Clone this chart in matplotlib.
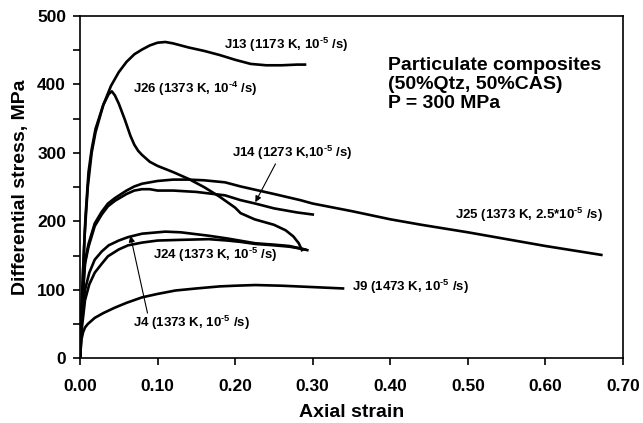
import numpy as np
import matplotlib
matplotlib.use("Agg")
import matplotlib.pyplot as plt
from matplotlib.ticker import MultipleLocator, FormatStrFormatter

plt.rcParams['font.family'] = ['Liberation Sans', 'DejaVu Sans']
plt.rcParams['font.weight'] = 'bold'
plt.rcParams['mathtext.fontset'] = 'custom'
plt.rcParams['mathtext.rm'] = 'Liberation Sans:bold'
plt.rcParams['mathtext.bf'] = 'Liberation Sans:bold'
plt.rcParams['mathtext.default'] = 'bf'

# Stress-strain curves (strain, MPa)
j13_strain = [0, 0.002, 0.004, 0.007, 0.011, 0.015, 0.02, 0.03, 0.04, 0.05, 0.06, 0.07, 0.08, 0.09,
              0.10, 0.11, 0.12, 0.14, 0.16, 0.18, 0.20, 0.22, 0.24, 0.26, 0.28, 0.29]
j13_stress = [0, 60, 130, 205, 272, 305, 335, 370, 398, 418, 433, 444, 451, 457,
              461, 462, 460, 454, 449, 443, 436, 430, 428, 428, 429, 429]

j26_strain = [0, 0.003, 0.006, 0.01, 0.015, 0.02, 0.03, 0.037, 0.041, 0.045, 0.05, 0.058, 0.065, 0.07,
              0.075, 0.08, 0.09, 0.10, 0.12, 0.14, 0.16, 0.18, 0.20, 0.207, 0.225, 0.25, 0.265,
              0.275, 0.282, 0.286]
j26_stress = [0, 100, 180, 250, 300, 330, 370, 386, 390, 384, 372, 348, 325, 312,
              303, 297, 287, 281, 272, 262, 250, 236, 220, 212, 203, 195, 187,
              178, 168, 158]

j25_strain = [0, 0.002, 0.0065, 0.011, 0.019, 0.028, 0.036, 0.045, 0.06, 0.07, 0.08, 0.10, 0.12,
              0.14, 0.16, 0.187, 0.207, 0.25, 0.284, 0.30, 0.35, 0.40, 0.44, 0.50, 0.555, 0.60, 0.672]
j25_stress = [0, 70, 142, 167, 197, 214, 226, 234, 245, 251, 255, 259, 261,
              261, 260, 257, 251, 240, 231, 226, 215, 203, 195, 184, 173, 164, 151]

j14_strain = [0, 0.002, 0.0065, 0.011, 0.019, 0.028, 0.036, 0.045, 0.06, 0.07, 0.08, 0.09, 0.10,
              0.12, 0.15, 0.187, 0.207, 0.226, 0.25, 0.28, 0.30]
j14_stress = [0, 65, 138, 163, 193, 210, 222, 230, 240, 245, 247, 247, 245,
              245, 243, 238, 231, 226, 219, 213, 210]

j4_strain = [0, 0.002, 0.0065, 0.012, 0.019, 0.028, 0.037, 0.05, 0.062, 0.08, 0.10, 0.11, 0.13,
             0.166, 0.19, 0.226, 0.25, 0.27, 0.29]
j4_stress = [0, 50, 100, 125, 144, 156, 165, 172, 177, 182, 184, 185, 184,
             179, 175, 168, 166, 164, 159]

j24_strain = [0, 0.002, 0.0065, 0.012, 0.019, 0.028, 0.036, 0.05, 0.062, 0.08, 0.10, 0.13, 0.166,
              0.19, 0.207, 0.226, 0.25, 0.27, 0.285, 0.293]
j24_stress = [0, 40, 85, 108, 125, 138, 149, 159, 165, 169, 172, 173, 174,
              172, 170, 167, 165, 163, 160, 158]

j9_strain = [0, 0.002, 0.004, 0.0065, 0.01, 0.019, 0.03, 0.045, 0.06, 0.08, 0.10, 0.123, 0.15,
             0.18, 0.20, 0.226, 0.26, 0.30, 0.339]
j9_stress = [0, 28, 38, 45, 50, 59, 66, 74, 81, 89, 94, 99, 102,
             105, 106, 107, 106, 104, 102]

fig = plt.figure(figsize=(6.43, 4.23), dpi=100)
ax = fig.add_axes([0.1244, 0.153, 0.8446, 0.8092])

for s, t in [(j13_strain, j13_stress), (j26_strain, j26_stress), (j25_strain, j25_stress),
             (j14_strain, j14_stress), (j4_strain, j4_stress), (j24_strain, j24_stress),
             (j9_strain, j9_stress)]:
    ax.plot(s, t, color='black', lw=1.9, solid_joinstyle='round')

lab_kw = dict(fontsize=9.5, fontweight='bold', ha='left', va='center')
ax.text(0.186, 458, r'J13 (1173 K, 10$^{\text{-5}}$ /s)', **lab_kw)
ax.text(0.068, 394, r'J26 (1373 K, 10$^{\text{-4}}$ /s)', **lab_kw)
ax.text(0.196, 300, r'J14 (1273 K,10$^{\text{-5}}$ /s)', **lab_kw)
ax.text(0.484, 210, r'J25 (1373 K, 2.5*10$^{\text{-5}}$ /s)', **lab_kw)
ax.text(0.094, 151, r'J24 (1373 K, 10$^{\text{-5}}$ /s)', **lab_kw)
ax.text(0.068, 52, r'J4 (1373 K, 10$^{\text{-5}}$ /s)', **lab_kw)
ax.text(0.35, 104, r'J9 (1473 K, 10$^{\text{-5}}$ /s)', **lab_kw)

arrow = dict(arrowstyle='-|>', lw=0.8, color='black', mutation_scale=9, shrinkA=0, shrinkB=0)
ax.annotate('', xy=(0.065, 179), xytext=(0.087, 66), arrowprops=arrow)
ax.annotate('', xy=(0.226, 228), xytext=(0.252, 284), arrowprops=arrow)

ax.text(0.3965, 400, 'Particulate composites\n(50%Qtz, 50%CAS)\nP = 300 MPa',
        fontsize=14, fontweight='bold', ha='left', va='center', linespacing=1.15)

ax.set_xlim(0, 0.70)
ax.set_ylim(0, 500)
ax.xaxis.set_major_locator(MultipleLocator(0.1))
ax.xaxis.set_major_formatter(FormatStrFormatter('%.2f'))
ax.yaxis.set_major_locator(MultipleLocator(100))
ax.yaxis.set_minor_locator(MultipleLocator(50))
ax.tick_params(axis='both', which='both', direction='out', length=5, width=1.2, labelsize=12.5)
ax.tick_params(axis='x', pad=10)
ax.tick_params(axis='y', pad=5)
for lbl in ax.get_xticklabels() + ax.get_yticklabels():
    lbl.set_fontweight('bold')
for sp in ax.spines.values():
    sp.set_linewidth(1.2)

ax.set_xlabel('Axial strain', fontsize=14, fontweight='bold', labelpad=7)
ax.set_ylabel('Differential stress, MPa', fontsize=14, fontweight='bold', labelpad=6)

fig.savefig('out.png', dpi=100)
